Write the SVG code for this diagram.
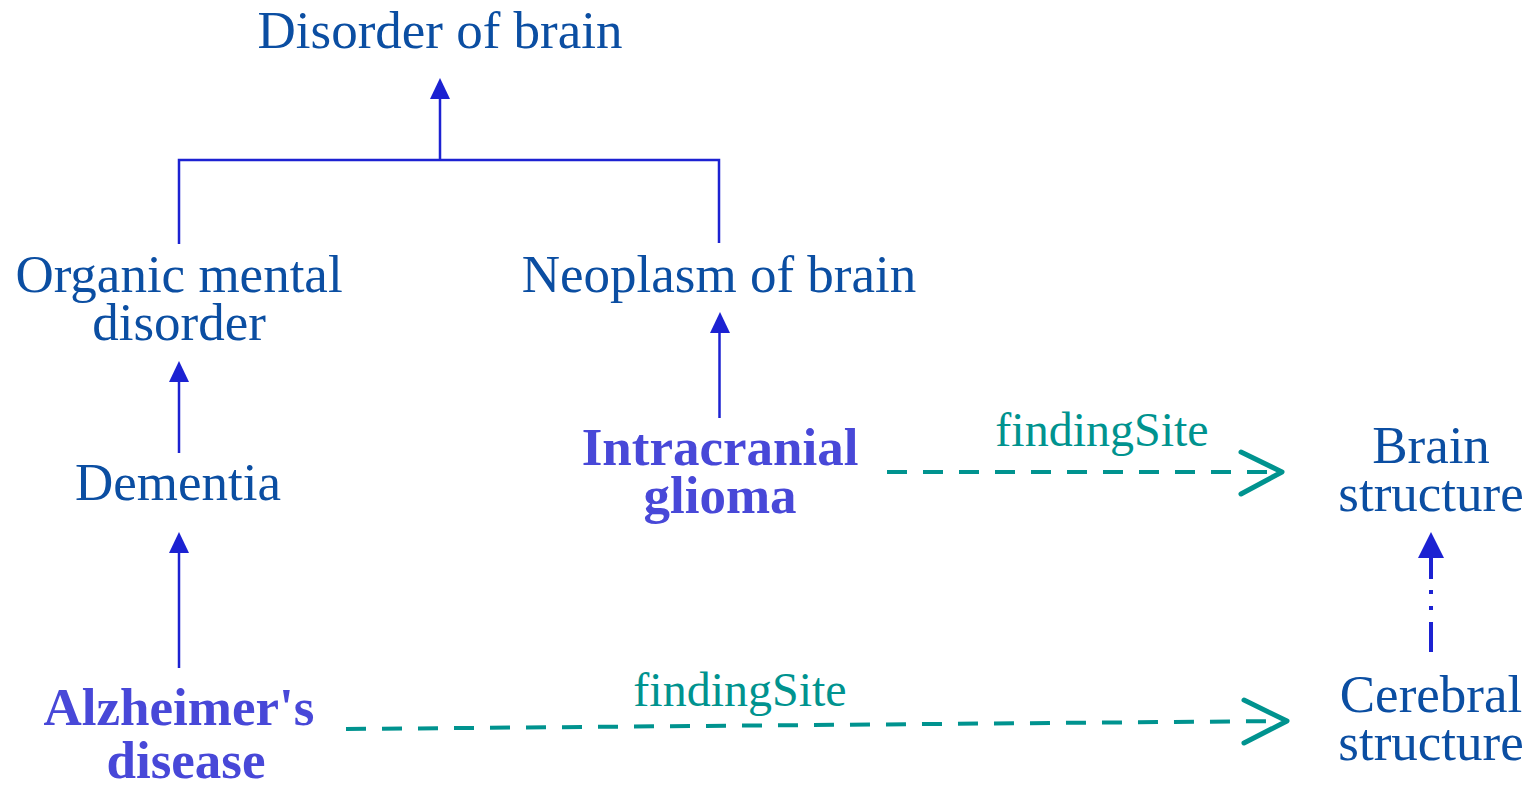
<svg xmlns="http://www.w3.org/2000/svg" width="1533" height="787" viewBox="0 0 1533 787">
<style>
.t{font-family:"Liberation Serif","Times New Roman",serif;font-size:53px;fill:#0b4ea2;text-anchor:middle}
.b{font-family:"Liberation Serif","Times New Roman",serif;font-size:53px;font-weight:bold;fill:#4848d8;text-anchor:middle}
.l{font-family:"Liberation Serif","Times New Roman",serif;font-size:48px;fill:#00938f;text-anchor:middle}
.e{stroke:#1c22d2;stroke-width:2.5;fill:none}
.h{fill:#1c22d2}
.d{stroke:#00938f;stroke-width:4;fill:none;stroke-dasharray:20 16}
.c{stroke:#00938f;stroke-width:5;fill:none;stroke-linecap:round;stroke-linejoin:round}
</style>
<rect width="1533" height="787" fill="#fff"/>
<g id="connectors">
<path class="e" d="M440,160 V96 M179,244 V160 H719 V243"/>
<polygon class="h" points="440,78 430,99 450,99"/>
<path class="e" d="M719.5,418 V331"/>
<polygon class="h" points="720,312 710,333 730,333"/>
<path class="e" d="M179,453 V380"/>
<polygon class="h" points="179,361 169,382 189,382"/>
<path class="e" d="M179,668 V551"/>
<polygon class="h" points="179,532 169,553 189,553"/>
<path style="stroke:#1c22d2;stroke-width:4;fill:none" d="M1431,652 V622 M1431,579 V557"/>
<rect class="h" x="1429" y="590" width="4" height="4"/>
<rect class="h" x="1429" y="606" width="4" height="4"/>
<polygon class="h" points="1431,532 1418,558 1444,558"/>
<path class="d" d="M887,472 H1278"/>
<path class="c" d="M1241,452 L1282,472 L1241,494"/>
<path class="d" d="M346,729 L1284,721"/>
<path class="c" d="M1244,700 L1287,721 L1244,743"/>
<text class="l" x="1102" y="446">findingSite</text>
<text class="l" x="740" y="706">findingSite</text>
</g>
<g id="disorder-of-brain"><text class="t" x="440" y="48">Disorder of brain</text></g>
<g id="organic-mental-disorder"><text class="t" x="179" y="292">Organic mental</text><text class="t" x="179" y="340">disorder</text></g>
<g id="neoplasm-of-brain"><text class="t" x="719" y="292">Neoplasm of brain</text></g>
<g id="dementia"><text class="t" x="178" y="500">Dementia</text></g>
<g id="intracranial-glioma"><text class="b" x="720" y="465">Intracranial</text><text class="b" x="720" y="513">glioma</text></g>
<g id="brain-structure"><text class="t" x="1431" y="463">Brain</text><text class="t" x="1431" y="511">structure</text></g>
<g id="cerebral-structure"><text class="t" x="1431" y="712">Cerebral</text><text class="t" x="1431" y="760">structure</text></g>
<g id="alzheimers-disease"><text class="b" x="179" y="725">Alzheimer's</text><text class="b" x="186" y="778">disease</text></g>
</svg>
